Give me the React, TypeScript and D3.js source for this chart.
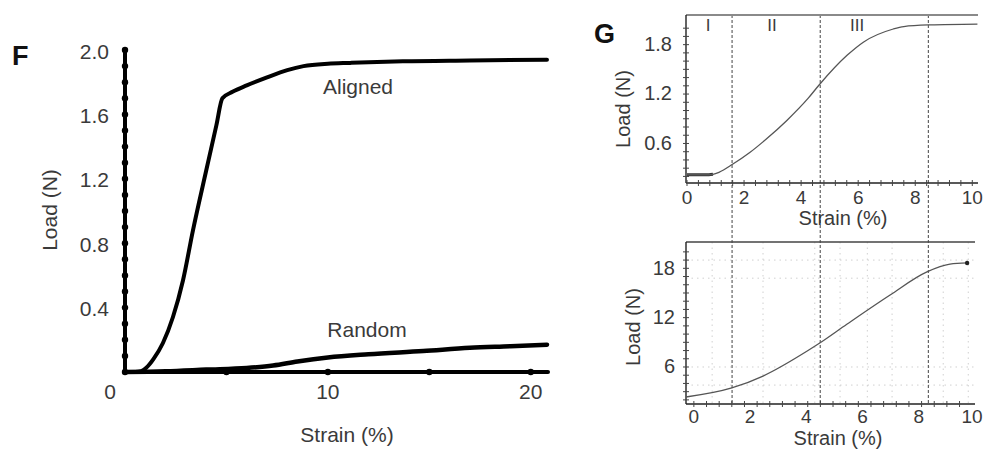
import React from "react";
import * as d3 from "d3";

// ---------- Panel F data ----------
const alignedStrain = [0, 0.5, 0.8, 1.08, 1.4, 1.87, 2.36, 2.86, 3.35, 4.0, 4.5, 4.8, 5.3, 6, 7, 8, 8.8, 10, 11.1, 13.7, 17, 20.8];
const alignedLoad = [0, 0, 0.005, 0.03, 0.08, 0.18, 0.34, 0.57, 0.88, 1.25, 1.53, 1.7, 1.74, 1.78, 1.83, 1.875, 1.9, 1.915, 1.92, 1.93, 1.935, 1.94];
const randomStrain = [0, 2, 4, 6, 7.3, 8.5, 10, 12, 14.7, 17, 19, 20.8];
const randomLoad = [0, 0.005, 0.015, 0.025, 0.04, 0.065, 0.09, 0.11, 0.13, 0.15, 0.16, 0.17];
const fYTicks = [0.4, 0.8, 1.2, 1.6, 2.0];
const fXTicks = [10, 20];
const fXDots = [5, 10, 15, 20];

// ---------- Panel G (top) data ----------
const gTopStrain = [0, 0.5, 0.77, 0.91, 1.12, 1.61, 2.2, 2.8, 3.5, 4.25, 4.63, 5.61, 6.18, 7.23, 7.6, 8.53, 10.18];
const gTopLoad = [0.22, 0.22, 0.22, 0.225, 0.25, 0.35, 0.49, 0.66, 0.88, 1.15, 1.31, 1.67, 1.83, 1.99, 2.02, 2.04, 2.05];
const gTopYTicks = [0.6, 1.2, 1.8];
const gXTicks = [0, 2, 4, 6, 8, 10];
const regionBounds = [1.58, 4.67, 8.46];
const regionLabels = ["I", "II", "III"];
const regionLabelStrain = [0.74, 2.98, 5.96];

// ---------- Panel G (bottom) data ----------
const gBotStrain = [-0.28, 1.35, 2.46, 4.06, 4.45, 5.44, 6.98, 8.29, 9.11, 9.72];
const gBotLoad = [2.35, 3.45, 4.9, 8.0, 8.85, 11.2, 14.76, 17.56, 18.5, 18.65];
const gBotYTicks = [6, 12, 18];
const gBotGridStrain = [0.65, 2.46, 4.3, 5.2, 6.17, 7.05, 8.87, 9.76];
const gBotGridLoad = [3.8, 6.0, 16.8, 19.0];

const FONT = "'Liberation Sans', Arial, Helvetica, sans-serif";
const TXT = "#3a3a3a";

export default function App() {
  // Panel F scales
  const xF = d3.scaleLinear().domain([0, 20.85]).range([125, 548]);
  const yF = d3.scaleLinear().domain([0, 2]).range([372, 50]);
  const lineF = d3
    .line<[number, number]>()
    .x((d) => xF(d[0]))
    .y((d) => yF(d[1]))
    .curve(d3.curveMonotoneX);
  const aligned = alignedStrain.map((s, i) => [s, alignedLoad[i]] as [number, number]);
  const random = randomStrain.map((s, i) => [s, randomLoad[i]] as [number, number]);
  const fYDots = d3.range(0, 20.01, 1).map((v) => v / 10);

  // Panel G top scales
  const xT = d3.scaleLinear().domain([0, 10.2]).range([687, 978]);
  const yT = d3.scaleLinear().domain([0.12, 2.16]).range([183, 15]);
  const lineT = d3
    .line<[number, number]>()
    .x((d) => xT(d[0]))
    .y((d) => yT(d[1]))
    .curve(d3.curveMonotoneX);
  const topPts = gTopStrain.map((s, i) => [s, gTopLoad[i]] as [number, number]);
  const topFlat = topPts.filter((d) => d[0] <= 0.95);
  const topYMinor = d3.range(2, 21, 1).map((v) => v / 10);
  const topXMinor = d3.range(0, 26, 1).map((v) => v * 0.4);

  // Panel G bottom scales
  const xB = d3.scaleLinear().domain([-0.28, 10]).range([686, 975]);
  const yB = d3.scaleLinear().domain([1.5, 21.2]).range([404, 242]);
  const lineB = d3
    .line<[number, number]>()
    .x((d) => xB(d[0]))
    .y((d) => yB(d[1]))
    .curve(d3.curveMonotoneX);
  const botPts = gBotStrain.map((s, i) => [s, gBotLoad[i]] as [number, number]);
  const botYMinor = d3.range(2, 21, 1);
  const botXMinor = d3.range(0, 22, 1).map((v) => v * 0.45);
  const lastB = botPts[botPts.length - 1];

  return (
    <svg
      width={993}
      height={450}
      style={{ position: "absolute", left: 0, top: 0, background: "#fff" }}
      fontFamily={FONT}
    >
      <rect x={0} y={0} width={993} height={450} fill="#fff" />

      {/* ================= Panel F ================= */}
      <text x={12} y={65} fontSize={27} fontWeight="bold" fill="#111">F</text>

      {/* axes */}
      <line x1={xF(0)} x2={xF(0)} y1={yF(0) + 2} y2={yF(2)} stroke="#000" strokeWidth={4} />
      <line x1={xF(0)} x2={xF(20.85)} y1={yF(0)} y2={yF(0)} stroke="#000" strokeWidth={4} strokeLinecap="round" />
      {fYDots.map((v) => (
        <circle key={"fyd" + v} cx={xF(0)} cy={yF(v)} r={3.2} fill="#000" />
      ))}
      {fXDots.map((v) => (
        <circle key={"fxd" + v} cx={xF(v)} cy={yF(0)} r={3.2} fill="#000" />
      ))}
      {fYTicks.map((v) => (
        <text key={"fyt" + v} x={109} y={yF(v) + 3} fontSize={21} fill={TXT} textAnchor="end" dominantBaseline="middle">
          {v.toFixed(1)}
        </text>
      ))}
      <text x={110} y={393} fontSize={21} fill={TXT} textAnchor="middle" dominantBaseline="middle">0</text>
      {fXTicks.map((v) => (
        <text key={"fxt" + v} x={xF(v)} y={393} fontSize={21} fill={TXT} textAnchor="middle" dominantBaseline="middle">
          {v}
        </text>
      ))}
      <text x={347} y={436} fontSize={21} fill={TXT} textAnchor="middle" dominantBaseline="middle">Strain (%)</text>
      <text
        transform="translate(51,210) rotate(-90)"
        fontSize={21}
        fill={TXT}
        textAnchor="middle"
        dominantBaseline="middle"
      >
        Load (N)
      </text>

      {/* curves */}
      <path d={lineF(random) || ""} fill="none" stroke="#000" strokeWidth={4.5} strokeLinecap="round" />
      <path d={lineF(aligned) || ""} fill="none" stroke="#000" strokeWidth={4} strokeLinecap="round" strokeLinejoin="round" />
      <text x={358} y={88} fontSize={21} fill={TXT} textAnchor="middle" dominantBaseline="middle">Aligned</text>
      <text x={367} y={331} fontSize={21} fill={TXT} textAnchor="middle" dominantBaseline="middle">Random</text>

      {/* ================= Panel G ================= */}
      <text x={594} y={43} fontSize={27} fontWeight="bold" fill="#111">G</text>

      {/* bottom grid (faint dotted) */}
      {gBotGridStrain.map((v) => (
        <line key={"gbx" + v} x1={xB(v)} x2={xB(v)} y1={yB(21.2)} y2={yB(1.5)} stroke="#d0d0d0" strokeWidth={1} strokeDasharray="1.5,4" />
      ))}
      {gBotGridLoad.map((v) => (
        <line key={"gby" + v} x1={xB(-0.28)} x2={xB(10)} y1={yB(v)} y2={yB(v)} stroke="#d0d0d0" strokeWidth={1} strokeDasharray="1.5,4" />
      ))}

      {/* region dashed lines spanning both panels */}
      {regionBounds.map((v) => (
        <line key={"rb" + v} x1={xT(v)} x2={xT(v)} y1={yT(2.16)} y2={yB(1.5)} stroke="#555" strokeWidth={1.1} strokeDasharray="3,2" />
      ))}
      {regionLabels.map((l, i) => (
        <text key={"rl" + l} x={xT(regionLabelStrain[i])} y={27} fontSize={17} fill={TXT} textAnchor="middle" dominantBaseline="middle">
          {l}
        </text>
      ))}

      {/* top panel axes */}
      <line x1={686} x2={xT(10.2)} y1={yT(2.16)} y2={yT(2.16)} stroke="#8a8a8a" strokeWidth={2} />
      <line x1={686} x2={686} y1={yT(2.16)} y2={yT(0.12)} stroke="#222" strokeWidth={1.4} />
      <line x1={686} x2={xT(10.2)} y1={yT(0.12)} y2={yT(0.12)} stroke="#222" strokeWidth={1.6} />
      {topYMinor.map((v) => (
        <line key={"tym" + v} x1={683} x2={689} y1={yT(v)} y2={yT(v)} stroke="#444" strokeWidth={1} />
      ))}
      {topXMinor.map((v) => (
        <line key={"txm" + v} x1={xT(v)} x2={xT(v)} y1={yT(0.12) - 3} y2={yT(0.12) + 3} stroke="#444" strokeWidth={1} />
      ))}
      {gTopYTicks.map((v) => (
        <text key={"tyt" + v} x={672} y={yT(v) + 1} fontSize={20} fill={TXT} textAnchor="end" dominantBaseline="middle">
          {v.toFixed(1)}
        </text>
      ))}
      {gXTicks.map((v) => (
        <text key={"txt" + v} x={xT(v)} y={199} fontSize={19} fill={TXT} textAnchor="middle" dominantBaseline="middle">
          {v}
        </text>
      ))}
      <text x={843} y={220} fontSize={20} fill={TXT} textAnchor="middle" dominantBaseline="middle">Strain (%)</text>
      <text transform="translate(625,109) rotate(-90)" fontSize={20} fill={TXT} textAnchor="middle" dominantBaseline="middle">
        Load (N)
      </text>
      <path d={lineT(topFlat) || ""} fill="none" stroke="#333" strokeWidth={3} />
      <path d={lineT(topPts) || ""} fill="none" stroke="#555" strokeWidth={1.3} />

      {/* bottom panel axes */}
      <line x1={686} x2={xB(10)} y1={yB(21.2)} y2={yB(21.2)} stroke="#444" strokeWidth={1.4} />
      <line x1={686} x2={686} y1={yB(21.2)} y2={yB(1.5)} stroke="#222" strokeWidth={1.4} />
      <line x1={686} x2={xB(10)} y1={yB(1.5)} y2={yB(1.5)} stroke="#222" strokeWidth={1.6} />
      {botYMinor.map((v) => (
        <line key={"bym" + v} x1={683} x2={689} y1={yB(v)} y2={yB(v)} stroke="#444" strokeWidth={1} />
      ))}
      {botXMinor.map((v) => (
        <line key={"bxm" + v} x1={xB(v)} x2={xB(v)} y1={yB(1.5) - 3} y2={yB(1.5) + 3} stroke="#444" strokeWidth={1} />
      ))}
      {gBotYTicks.map((v) => (
        <text key={"byt" + v} x={675} y={yB(v) + 1} fontSize={20} fill={TXT} textAnchor="end" dominantBaseline="middle">
          {v}
        </text>
      ))}
      {gXTicks.map((v) => (
        <text key={"bxt" + v} x={Math.min(xB(v), 972)} y={418} fontSize={19} fill={TXT} textAnchor="middle" dominantBaseline="middle">
          {v}
        </text>
      ))}
      <text x={838} y={440} fontSize={20} fill={TXT} textAnchor="middle" dominantBaseline="middle">Strain (%)</text>
      <text transform="translate(635,327) rotate(-90)" fontSize={20} fill={TXT} textAnchor="middle" dominantBaseline="middle">
        Load (N)
      </text>
      <path d={lineB(botPts) || ""} fill="none" stroke="#555" strokeWidth={1.3} />
      <circle cx={xB(lastB[0])} cy={yB(lastB[1])} r={2.2} fill="#222" />
    </svg>
  );
}
